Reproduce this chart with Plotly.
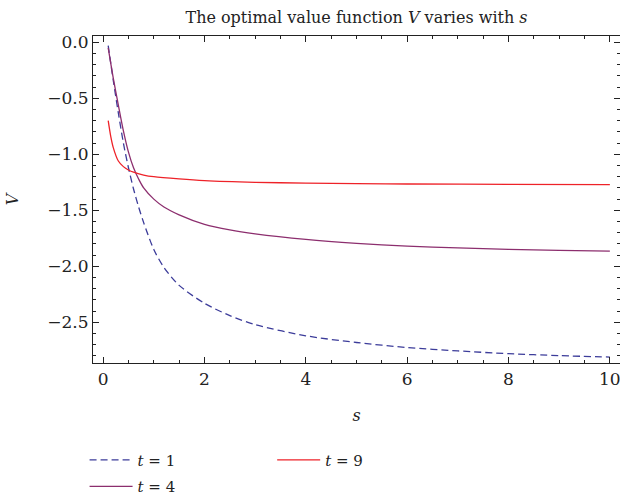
import plotly.graph_objects as go

s_t1 = [0.1, 0.2, 0.3, 0.4, 0.5, 0.6, 0.7, 0.8, 1.0, 1.2, 1.5, 2.0, 2.5, 3.0, 4.0, 5.0, 6.0, 7.0, 8.0, 9.0, 10.0]
v_t1 = [-0.03, -0.34, -0.63, -0.90, -1.12, -1.31, -1.47, -1.61, -1.85, -2.01, -2.17, -2.33, -2.44, -2.52, -2.62, -2.68, -2.725, -2.755, -2.78, -2.797, -2.81]

s_t4 = [0.1, 0.2, 0.3, 0.4, 0.5, 0.6, 0.7, 0.8, 1.0, 1.2, 1.5, 2.0, 2.5, 3.0, 4.0, 5.0, 6.0, 7.0, 8.0, 9.0, 10.0]
v_t4 = [-0.05, -0.32, -0.56, -0.79, -0.98, -1.12, -1.22, -1.30, -1.40, -1.47, -1.54, -1.625, -1.675, -1.71, -1.76, -1.795, -1.82, -1.835, -1.848, -1.858, -1.865]

s_t9 = [0.1, 0.15, 0.2, 0.3, 0.4, 0.5, 0.6, 0.8, 1.0, 1.5, 2.0, 3.0, 4.0, 5.0, 6.0, 8.0, 10.0]
v_t9 = [-0.70, -0.84, -0.94, -1.06, -1.11, -1.14, -1.16, -1.185, -1.20, -1.22, -1.235, -1.25, -1.257, -1.262, -1.265, -1.268, -1.271]

x_ticks = [0, 2, 4, 6, 8, 10]
y_ticks = [0.0, -0.5, -1.0, -1.5, -2.0, -2.5]
y_tick_text = ["0.0", "\u22120.5", "\u22121.0", "\u22121.5", "\u22122.0", "\u22122.5"]

FONT = "DejaVu Serif"
C1 = "#3c3c9a"
C4 = "#8c2e6e"
C9 = "#ee2228"

fig = go.Figure()
fig.add_trace(go.Scatter(x=s_t1, y=v_t1, mode="lines", name="<i>t</i> = 1",
                         line=dict(color=C1, width=1.3, dash="7px,4px", shape="spline", smoothing=0.8),
                         legend="legend", showlegend=True))
fig.add_trace(go.Scatter(x=s_t4, y=v_t4, mode="lines", name="<i>t</i> = 4",
                         line=dict(color=C4, width=1.3, shape="spline", smoothing=0.8),
                         legend="legend2", showlegend=True))
fig.add_trace(go.Scatter(x=s_t9, y=v_t9, mode="lines", name="<i>t</i> = 9",
                         line=dict(color=C9, width=1.3, shape="spline", smoothing=0.8),
                         legend="legend3", showlegend=True))

leg_common = dict(orientation="v", xanchor="left", yanchor="middle", itemwidth=43,
                  bgcolor="rgba(0,0,0,0)", font=dict(family=FONT, size=15, color="#222"))

fig.update_layout(
    width=620, height=498,
    showlegend=True,
    margin=dict(l=93, r=0, t=36, b=135, autoexpand=False),
    paper_bgcolor="white", plot_bgcolor="white",
    font=dict(family=FONT, size=15, color="#222"),
    title=dict(text="The optimal value function <i>V</i> varies with <i>s</i>",
               x=0.575, xanchor="center", y=0.966, yanchor="middle",
               font=dict(family=FONT, size=16, color="#222")),
    legend=dict(x=-0.016, y=-0.297, **leg_common),
    legend2=dict(x=-0.016, y=-0.378, **leg_common),
    legend3=dict(x=0.34, y=-0.297, **leg_common),
    xaxis=dict(range=[-0.2, 10.2], tickvals=x_ticks, ticktext=[str(v) for v in x_ticks],
               showgrid=False, zeroline=False, showline=True, linecolor="#222", linewidth=1.2,
               mirror="ticks", ticks="inside", ticklen=6, tickwidth=1.1, tickcolor="#222",
               ticklabeloverflow="allow",
               minor=dict(dtick=0.5, tick0=0, ticks="inside", ticklen=3, tickwidth=1, tickcolor="#222"),
               title=dict(text="<i>s</i>", standoff=22, font=dict(family=FONT, size=16)),
               tickfont=dict(family=FONT, size=17, color="#222")),
    yaxis=dict(range=[-2.863, 0.056], tickvals=y_ticks, ticktext=y_tick_text,
               showgrid=False, zeroline=False, showline=True, linecolor="#222", linewidth=1.2,
               mirror="ticks", ticks="inside", ticklen=6, tickwidth=1.1, tickcolor="#222",
               minor=dict(dtick=0.1, tick0=0, ticks="inside", ticklen=3, tickwidth=1, tickcolor="#222"),
               title=dict(text="<i>V</i>", standoff=24, font=dict(family=FONT, size=16)),
               tickfont=dict(family=FONT, size=17, color="#222")),
)

fig.write_html("out.html")
